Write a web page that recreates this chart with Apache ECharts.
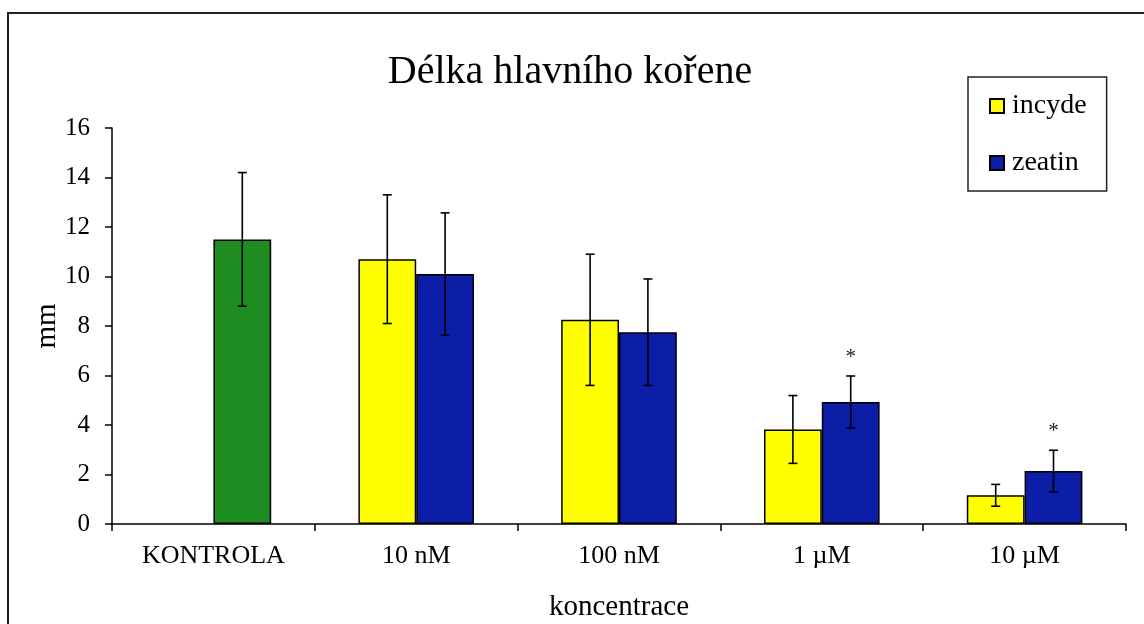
<!DOCTYPE html>
<html>
<head>
<meta charset="utf-8">
<script src="https://cdn.jsdelivr.net/npm/echarts@6/dist/echarts.min.js"></script>
<style>
html,body{margin:0;padding:0;background:#fff;}
#chart{width:1144px;height:624px;}
</style>
</head>
<body>
<div id="chart"></div>
<script>
const categories = ['KONTROLA', '10 nM', '100 nM', '1 µM', '10 µM'];
const incyde = [null, 10.7, 8.25, 3.82, 1.16];
const incydeErr = [null, 2.6, 2.65, 1.37, 0.44];
const zeatin = [11.5, 10.1, 7.75, 4.93, 2.14];
const zeatinErr = [2.7, 2.47, 2.15, 1.05, 0.84];
const zeatinSig = ['', '', '', '*', '*'];
const yMin = 0, yMax = 16, yStep = 2;
const yName = 'mm';

const FONT = '"Liberation Serif", "Times New Roman", serif';
const YELLOW = '#ffff00', BLUE = '#0c1ea8', GREEN = '#1f8c22';
const CAT_GAP = 0.43;

function errData(vals, errs, sig) {
  const out = [];
  vals.forEach((v, i) => {
    if (v == null) return;
    out.push([i, v - errs[i], v + errs[i], sig ? sig[i] : '']);
  });
  return out;
}

function errRender(side) {
  return function (params, api) {
    const i = api.value(0);
    const lo = api.value(1), hi = api.value(2);
    const sig = api.value(3);
    const catW = api.size([1, 0])[0];
    const bw = catW * (1 - CAT_GAP) / 2;
    const pTop = api.coord([i, hi]);
    const pBot = api.coord([i, lo]);
    const x = pTop[0] + side * bw / 2;
    const cap = 4.5;
    const st = { stroke: '#000', lineWidth: 1.6 };
    const children = [
      { type: 'line', shape: { x1: x, y1: pTop[1], x2: x, y2: pBot[1] }, style: st },
      { type: 'line', shape: { x1: x - cap, y1: pTop[1], x2: x + cap, y2: pTop[1] }, style: st },
      { type: 'line', shape: { x1: x - cap, y1: pBot[1], x2: x + cap, y2: pBot[1] }, style: st }
    ];
    if (sig && sig !== '' && sig !== '-') {
      children.push({
        type: 'text',
        style: { text: String(sig), x: x, y: pTop[1] - 19, align: 'center', verticalAlign: 'middle',
                 font: '21px ' + FONT, fill: '#222' }
      });
    }
    return { type: 'group', children: children };
  };
}

const chart = echarts.init(document.getElementById('chart'), null, { renderer: 'canvas' });
chart.setOption({
  backgroundColor: '#fff',
  animation: false,
  title: {
    text: 'Délka hlavního kořene',
    left: 565, top: 47, textAlign: 'center',
    textStyle: { fontFamily: FONT, fontSize: 40, fontWeight: 'normal', color: '#000' }
  },
  legend: {
    orient: 'vertical',
    left: 968, top: 77,
    padding: [14, 20, 13, 21],
    itemGap: 27,
    itemWidth: 14, itemHeight: 14,
    backgroundColor: '#fff',
    borderColor: '#222', borderWidth: 1.5,
    icon: 'rect',
    data: ['incyde', 'zeatin'],
    textStyle: { fontFamily: FONT, fontSize: 28, color: '#000', lineHeight: 30, padding: [0, 0, 0, 3] }
  },
  graphic: [
    {
      type: 'rect', z: -1, silent: true,
      shape: { x: 8, y: 13, width: 1300, height: 800 },
      style: { fill: 'none', stroke: '#222', lineWidth: 2 }
    },
    {
      type: 'text', silent: true,
      x: 47, y: 326, rotation: Math.PI / 2,
      style: { text: yName, font: '29px ' + FONT, fill: '#000', align: 'center', verticalAlign: 'middle' }
    }
  ],
  grid: { left: 112, top: 128, right: 18, bottom: 100, containLabel: false, outerBoundsMode: 'none' },
  xAxis: {
    type: 'category',
    data: categories,
    name: 'koncentrace',
    nameLocation: 'middle',
    nameGap: 69,
    nameTextStyle: { fontFamily: FONT, fontSize: 29, color: '#000' },
    axisLine: { lineStyle: { color: '#000', width: 1.5 } },
    axisTick: { show: true, length: 7, lineStyle: { color: '#000', width: 1.5 } },
    axisLabel: { fontFamily: FONT, fontSize: 26, color: '#000', margin: 19 },
    splitLine: { show: false }
  },
  yAxis: {
    type: 'value',
    min: yMin, max: yMax, interval: yStep,
    axisLine: { show: true, lineStyle: { color: '#000', width: 1.5 } },
    axisTick: { show: true, length: 7, lineStyle: { color: '#000', width: 1.5 } },
    axisLabel: { fontFamily: FONT, fontSize: 25, color: '#000', margin: 22 },
    splitLine: { show: false }
  },
  series: [
    {
      name: 'incyde', type: 'bar',
      data: incyde.map(v => v == null ? '-' : v),
      barGap: '0%', barCategoryGap: (CAT_GAP * 100) + '%',
      itemStyle: { color: YELLOW, borderColor: '#000', borderWidth: 1.5 }
    },
    {
      name: 'zeatin', type: 'bar',
      data: zeatin.map((v, i) => i === 0 ? { value: v, itemStyle: { color: GREEN } } : v),
      barGap: '0%', barCategoryGap: (CAT_GAP * 100) + '%',
      itemStyle: { color: BLUE, borderColor: '#000', borderWidth: 1.5 }
    },
    {
      name: 'incyde-err', type: 'custom', z: 10, silent: true,
      renderItem: errRender(-1),
      encode: { x: 0, y: [1, 2] },
      data: errData(incyde, incydeErr, null)
    },
    {
      name: 'zeatin-err', type: 'custom', z: 10, silent: true,
      renderItem: errRender(1),
      encode: { x: 0, y: [1, 2] },
      data: errData(zeatin, zeatinErr, zeatinSig)
    }
  ]
});
</script>
</body>
</html>
